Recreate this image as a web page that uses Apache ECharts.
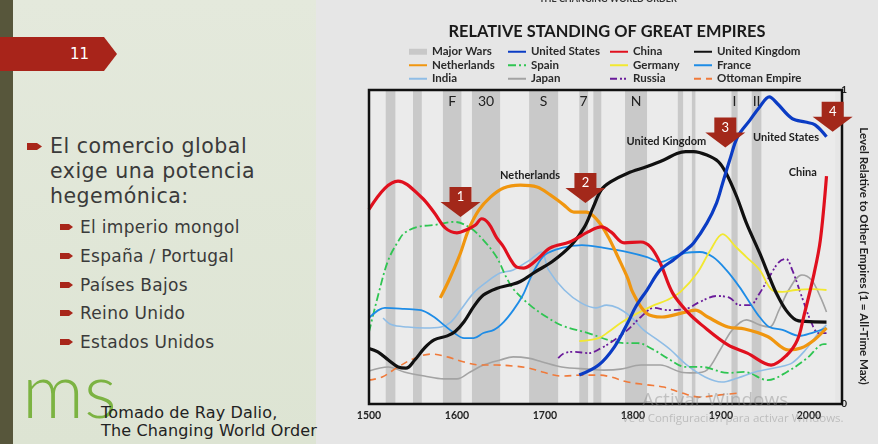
<!DOCTYPE html>
<html>
<head>
<meta charset="utf-8">
<script src="https://cdn.jsdelivr.net/npm/echarts@6/dist/echarts.min.js"></script>
<style>
  html, body { margin: 0; padding: 0; width: 878px; height: 444px; overflow: hidden; background: #e6e6e6; }
  #slide { position: absolute; left: 0; top: 0; width: 316px; height: 444px;
    background: linear-gradient(180deg, #e4e9dc 0%, #dde4d3 100%); font-family: 'DejaVu Sans', sans-serif; color: #3a3a3a; }
  #bar { position: absolute; left: 0; top: 0; width: 13px; height: 444px; background: #57563b; }
  #tab { position: absolute; left: 0; top: 37px; width: 117px; height: 34px; background: #a8241a;
    clip-path: polygon(0 0, 104px 0, 117px 17px, 104px 34px, 0 34px); }
  #tab span { position: absolute; left: 70px; top: 0; line-height: 34px; font-size: 15px; color: #fff; }
  .b1 { position: absolute; left: 27px; width: 15px; height: 7px; background: #a8261a;
    clip-path: polygon(0 0, 10px 0, 15px 3.5px, 10px 7px, 0 7px); }
  .b2 { position: absolute; left: 60px; width: 13px; height: 6px; background: #a8261a;
    clip-path: polygon(0 0, 9px 0, 13px 3px, 9px 6px, 0 6px); }
  .t1 { position: absolute; left: 50px; font-size: 20.5px; letter-spacing: 0.5px; line-height: 25px; white-space: nowrap; }
  .t2 { position: absolute; left: 80px; font-size: 17px; letter-spacing: 0.3px; line-height: 20px; white-space: nowrap; }
  #ms { position: absolute; left: 22px; top: 350px; font-family: Lato, sans-serif; font-weight: 300;
    font-size: 77px; line-height: 1; color: #7cb342; }
  .src { position: absolute; left: 101px; font-size: 16px; letter-spacing: 0.15px; line-height: 18px; color: #222; white-space: nowrap; }
  #chart { position: absolute; left: 318px; top: 0; width: 560px; height: 444px; }
  .wm { position: absolute; font-family: 'Open Sans', sans-serif; color: rgba(140,140,140,0.45); white-space: nowrap; pointer-events: none; }
</style>
</head>
<body>
<div id="slide">
  <div id="bar"></div>
  <div id="tab"><span>11</span></div>
  <div class="b1" style="top:143px"></div>
  <div class="t1" style="top:134px">El comercio global<br>exige una potencia<br>hegemónica:</div>
  <div class="b2" style="top:224px"></div><div class="t2" style="top:217px">El imperio mongol</div>
  <div class="b2" style="top:253px"></div><div class="t2" style="top:246px">España / Portugal</div>
  <div class="b2" style="top:282px"></div><div class="t2" style="top:275px">Países Bajos</div>
  <div class="b2" style="top:310px"></div><div class="t2" style="top:303px">Reino Unido</div>
  <div class="b2" style="top:339px"></div><div class="t2" style="top:332px">Estados Unidos</div>
  <div id="ms">ms</div>
  <div class="src" style="top:404px">Tomado de Ray Dalio,</div>
  <div class="src" style="top:422px">The Changing World Order</div>
</div>
<div id="chart"></div>
<div class="wm" style="left:642px; top:386px; font-size:19px;">Activar Windows</div>
<div class="wm" style="left:622px; top:410px; font-size:11.5px;">Ve a Configuración para activar Windows.</div>
<script>
// wars (start, end year) and their letters
const warBands = [[1519, 1530], [1550, 1560], [1584, 1605], [1617, 1649], [1682, 1715], [1739, 1749],
  [1755, 1764], [1791, 1816], [1851, 1857], [1867, 1871], [1912, 1919], [1935, 1946]];
const warLabels = ['', '', 'F', '30', 'S', '7', '', 'N', '', '', 'I', 'II'];

const usData = [[1739,0.092],[1761,0.124],[1779,0.182],[1794,0.258],[1803,0.309],[1816,0.363],[1831,0.427],[1846,0.459],[1860,0.49],[1869,0.513],[1884,0.576],[1895,0.64],[1902,0.704],[1910,0.777],[1919,0.851],[1933,0.904],[1944,0.946],[1955,0.978],[1964,0.957],[1981,0.909],[1996,0.898],[2007,0.889],[2020,0.851]];
const chinaData = [[1500,0.62],[1518,0.687],[1533,0.71],[1559,0.66],[1574,0.61],[1587,0.56],[1600,0.545],[1611,0.555],[1621,0.57],[1628,0.59],[1636,0.575],[1645,0.53],[1653,0.5],[1661,0.46],[1668,0.436],[1676,0.433],[1691,0.46],[1706,0.497],[1728,0.516],[1749,0.548],[1764,0.564],[1775,0.548],[1790,0.513],[1809,0.516],[1820,0.5],[1831,0.449],[1845,0.354],[1863,0.29],[1878,0.252],[1908,0.188],[1930,0.162],[1957,0.124],[1975,0.156],[1987,0.204],[1994,0.277],[2006,0.417],[2013,0.522],[2020,0.726]];
const ukData = [[1500,0.177],[1510,0.166],[1522,0.14],[1533,0.118],[1542,0.114],[1552,0.14],[1563,0.178],[1574,0.204],[1589,0.217],[1598,0.231],[1608,0.262],[1619,0.31],[1630,0.347],[1645,0.368],[1660,0.379],[1672,0.39],[1689,0.421],[1708,0.453],[1730,0.506],[1745,0.564],[1755,0.628],[1764,0.682],[1775,0.708],[1794,0.735],[1816,0.756],[1835,0.777],[1850,0.798],[1860,0.804],[1869,0.804],[1884,0.793],[1897,0.772],[1906,0.735],[1918,0.66],[1929,0.576],[1944,0.481],[1955,0.405],[1963,0.353],[1974,0.299],[1985,0.268],[1996,0.263],[2020,0.261]];
const netherlandsData = [[1581,0.338],[1591,0.395],[1604,0.481],[1613,0.554],[1625,0.618],[1638,0.659],[1653,0.688],[1672,0.697],[1691,0.691],[1706,0.666],[1721,0.635],[1733,0.611],[1747,0.611],[1760,0.584],[1772,0.532],[1783,0.468],[1794,0.401],[1800,0.354],[1815,0.29],[1833,0.277],[1856,0.29],[1871,0.299],[1885,0.277],[1908,0.245],[1927,0.239],[1953,0.215],[1977,0.172],[1991,0.178],[2006,0.204],[2020,0.242]];
const spainData = [[1500,0.229],[1511,0.353],[1522,0.459],[1534,0.522],[1540,0.544],[1555,0.564],[1574,0.57],[1597,0.58],[1615,0.561],[1630,0.522],[1645,0.468],[1656,0.404],[1665,0.363],[1683,0.315],[1702,0.277],[1721,0.248],[1749,0.226],[1772,0.204],[1790,0.194],[1805,0.194],[1824,0.172],[1839,0.146],[1860,0.118],[1878,0.118],[1908,0.099],[1927,0.102],[1953,0.076],[1975,0.102],[1998,0.146],[2017,0.191],[2020,0.191]];
const germanyData = [[1739,0.2],[1761,0.21],[1772,0.229],[1786,0.258],[1801,0.283],[1824,0.315],[1839,0.331],[1854,0.357],[1873,0.417],[1888,0.49],[1902,0.541],[1917,0.5],[1929,0.468],[1944,0.427],[1958,0.363],[1970,0.357],[1985,0.363],[2003,0.366],[2020,0.363]];
const franceData = [[1500,0.274],[1518,0.306],[1540,0.303],[1559,0.299],[1574,0.277],[1585,0.252],[1597,0.226],[1608,0.21],[1619,0.21],[1630,0.226],[1642,0.236],[1653,0.261],[1664,0.299],[1675,0.347],[1681,0.385],[1688,0.427],[1700,0.475],[1719,0.497],[1742,0.506],[1767,0.497],[1794,0.484],[1816,0.468],[1831,0.452],[1846,0.468],[1860,0.481],[1876,0.484],[1891,0.468],[1906,0.427],[1921,0.373],[1933,0.322],[1944,0.277],[1955,0.245],[1970,0.236],[1989,0.217],[2003,0.226],[2020,0.242]];
const indiaData = [[1516,0.274],[1526,0.252],[1544,0.245],[1563,0.242],[1582,0.245],[1593,0.261],[1604,0.299],[1619,0.354],[1634,0.389],[1649,0.417],[1664,0.427],[1683,0.459],[1696,0.484],[1704,0.427],[1722,0.363],[1741,0.322],[1758,0.306],[1770,0.315],[1783,0.306],[1798,0.277],[1812,0.236],[1828,0.204],[1843,0.172],[1860,0.127],[1882,0.086],[1901,0.07],[1919,0.083],[1939,0.102],[1966,0.118],[1981,0.131],[1996,0.172],[2011,0.226],[2020,0.252]];
const japanData = [[1500,0.105],[1522,0.118],[1540,0.102],[1563,0.089],[1585,0.08],[1600,0.08],[1615,0.102],[1630,0.124],[1649,0.14],[1664,0.15],[1681,0.146],[1697,0.134],[1719,0.118],[1749,0.111],[1767,0.108],[1786,0.111],[1809,0.124],[1831,0.124],[1854,0.102],[1869,0.099],[1884,0.108],[1899,0.172],[1913,0.236],[1929,0.268],[1944,0.252],[1955,0.245],[1966,0.299],[1977,0.363],[1992,0.411],[2003,0.395],[2013,0.341],[2020,0.293]];
const russiaData = [[1715,0.146],[1722,0.162],[1734,0.166],[1749,0.162],[1764,0.178],[1779,0.204],[1794,0.236],[1809,0.277],[1824,0.306],[1839,0.299],[1860,0.303],[1876,0.325],[1895,0.344],[1910,0.338],[1921,0.315],[1933,0.315],[1944,0.353],[1955,0.405],[1966,0.452],[1974,0.462],[1981,0.427],[1992,0.341],[2003,0.258],[2011,0.226],[2020,0.226]];
const ottomanData = [[1500,0.076],[1515,0.086],[1533,0.118],[1552,0.146],[1571,0.159],[1589,0.15],[1608,0.134],[1627,0.124],[1645,0.124],[1664,0.121],[1681,0.115],[1697,0.102],[1719,0.089],[1742,0.092],[1761,0.092],[1775,0.086],[1794,0.07],[1816,0.061],[1835,0.054],[1856,0.035],[1876,0.022],[1899,0.029],[1921,0.035]];

const FONT = 'Lato, "Noto Sans", sans-serif';
const chart = echarts.init(document.getElementById('chart'));

function line(name, data, color, width, type) {
  return {
    name: name, type: 'line', data: data, smooth: 0.35, symbol: 'none',
    color: color, lineStyle: { color: color, width: width, type: type || 'solid' },
    emphasis: { disabled: true }
  };
}

const legendBase = {
  orient: 'vertical', top: 45, padding: 0, itemWidth: 18, itemHeight: 6, itemGap: 0, selectedMode: false,
  itemStyle: { opacity: 0 },
  textStyle: { fontFamily: FONT, fontSize: 11.5, fontWeight: 'bold', color: '#2a2a2a', lineHeight: 13.5 }
};

const arrowPath = 'path://M9,0 L31,0 L31,15 L40,15 L20,30 L0,15 L9,15 Z';
const arrowLabel = { show: true, formatter: '{b}', color: '#fff', fontFamily: FONT, fontSize: 13, offset: [0, -5] };
const nameLabel = { show: true, formatter: '{b}', color: '#1e1e1e', fontFamily: FONT, fontSize: 11, fontWeight: 'bold' };

const option = {
  backgroundColor: '#e6e6e6',
  animation: false,
  grid: { left: 51, right: 36, top: 90, bottom: 40, show: true, backgroundColor: '#ebebeb', borderWidth: 0 },
  legend: [
    Object.assign({}, legendBase, { left: 90, data: [
      { name: 'Major Wars', icon: 'rect', itemStyle: { opacity: 1, color: '#c8c8c8' } }, 'Netherlands', 'India'] }),
    Object.assign({}, legendBase, { left: 189, data: ['United States', 'Spain', 'Japan'] }),
    Object.assign({}, legendBase, { left: 291, data: ['China', 'Germany', 'Russia'] }),
    Object.assign({}, legendBase, { left: 375, data: ['United Kingdom', 'France', 'Ottoman Empire'] })
  ],
  xAxis: {
    type: 'value', min: 1500, max: 2030, interval: 100,
    axisLine: { show: false }, axisTick: { show: false }, splitLine: { show: false },
    axisLabel: {
      showMaxLabel: false, margin: 6, color: '#222', fontFamily: FONT, fontSize: 10.5, fontWeight: 'bold',
      formatter: function (v) { return v % 100 === 0 ? String(v) : ''; }
    }
  },
  yAxis: {
    type: 'value', min: 0, max: 1, interval: 1, position: 'right',
    name: 'Level Relative to Other Empires (1 = All-Time Max)',
    nameLocation: 'middle', nameRotate: -90, nameGap: 21,
    nameTextStyle: { color: '#222', fontFamily: FONT, fontSize: 11.5, fontWeight: 'bold', padding: [0, 0, 0, 18] },
    axisLine: { show: false }, axisTick: { show: false }, splitLine: { show: false },
    axisLabel: { margin: 6, color: '#222', fontFamily: FONT, fontSize: 10, fontWeight: 'bold' }
  },
  graphic: [
    { type: 'text', x: 290, y: -1, style: { text: 'THE CHANGING WORLD ORDER', align: 'center', verticalAlign: 'middle',
      font: 'bold 9px Lato', fill: '#333' } },
    { type: 'text', x: 289, y: 32, style: { text: 'RELATIVE STANDING OF GREAT EMPIRES', align: 'center', verticalAlign: 'middle',
      font: 'bold 16.4px Lato', fill: '#1a1a1a' } },
    { type: 'rect', z: 5, silent: true, shape: { x: 51, y: 90, width: 473, height: 314 },
      style: { fill: null, stroke: '#111', lineWidth: 2.5 } }
  ],
  series: [
    {
      name: 'Major Wars', type: 'line', data: [], color: '#c8c8c8', itemStyle: { color: '#c8c8c8' },
      markArea: {
        silent: true,
        itemStyle: { color: '#c9c9c9' },
        label: { show: true, position: 'insideTop', distance: 4, color: '#222', fontFamily: FONT, fontSize: 14 },
        data: warBands.map(function (b, i) { return [{ xAxis: b[0], name: warLabels[i] }, { xAxis: b[1] }]; })
      }
    },
    line('Japan', japanData, '#a3a3a3', 1.6),
    line('Ottoman Empire', ottomanData, '#f07a3a', 1.6, [7, 5]),
    line('India', indiaData, '#8fbde6', 1.6),
    line('Spain', spainData, '#2fc552', 1.8, [8, 3, 2, 3]),
    line('Russia', russiaData, '#6a1b9a', 1.8, [7, 3, 2, 2, 2, 3]),
    line('France', franceData, '#1e8ce6', 1.8),
    line('Germany', germanyData, '#f2e830', 1.8),
    line('Netherlands', netherlandsData, '#f0960f', 3.2),
    line('United Kingdom', ukData, '#111111', 3.2),
    line('China', chinaData, '#e0101e', 3.2),
    line('United States', usData, '#0b3cc4', 3.2),
    {
      name: 'annotations', type: 'line', data: [], z: 10,
      markPoint: {
        silent: true,
        data: [
          { name: '1', coord: [1604, 0.643], symbol: arrowPath, symbolSize: [40, 30], itemStyle: { color: '#a3281a' }, label: arrowLabel },
          { name: '2', coord: [1746, 0.688], symbol: arrowPath, symbolSize: [40, 30], itemStyle: { color: '#a3281a' }, label: arrowLabel },
          { name: '3', coord: [1905, 0.865], symbol: arrowPath, symbolSize: [40, 30], itemStyle: { color: '#a3281a' }, label: arrowLabel },
          { name: '4', coord: [2027, 0.915], symbol: arrowPath, symbolSize: [40, 30], itemStyle: { color: '#a3281a' }, label: arrowLabel },
          { name: 'Netherlands', coord: [1683, 0.729], symbolSize: 0, label: nameLabel },
          { name: 'United Kingdom', coord: [1838, 0.835], symbolSize: 0, label: nameLabel },
          { name: 'United States', coord: [1974, 0.848], symbolSize: 0, label: nameLabel },
          { name: 'China', coord: [1993, 0.739], symbolSize: 0, label: nameLabel }
        ]
      }
    }
  ]
};

chart.setOption(option);
</script>
</body>
</html>
